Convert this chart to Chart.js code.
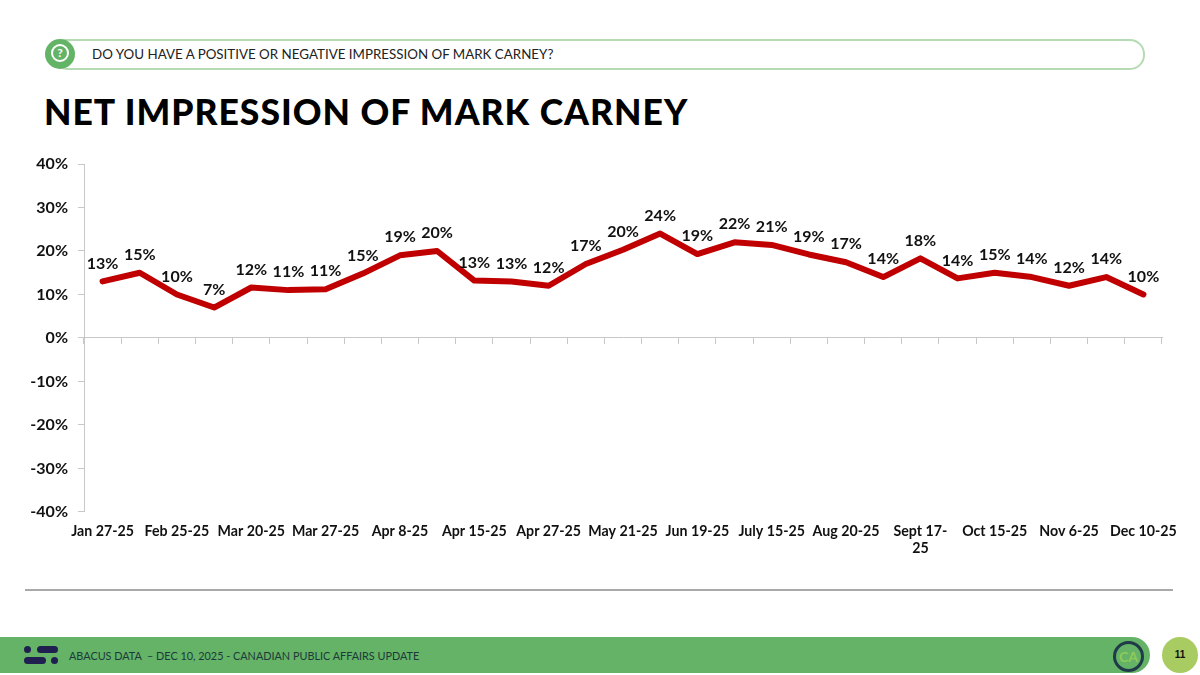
<!DOCTYPE html>
<html>
<head>
<meta charset="utf-8">
<script src="https://cdn.jsdelivr.net/npm/chart.js@4"></script>
<style>
  html, body { margin: 0; padding: 0; background: #fff; }
  body { width: 1200px; height: 675px; position: relative; overflow: hidden; font-family: Lato, sans-serif; color: #111; }
  #chart { position: absolute; left: 0; top: 140px; }
  .abs { position: absolute; box-sizing: border-box; }
  #pill { left: 52px; top: 39px; width: 1093px; height: 31px; border: 2px solid #b5dbb3; border-radius: 15px; }
  #icon { left: 45px; top: 39px; width: 30px; height: 30px; border-radius: 50%; background: #63b467; }
  #icon span { position: absolute; left: 6px; top: 5px; width: 18px; height: 18px; border: 2px solid #fff; border-radius: 50%; box-sizing: border-box; color: #fff; font: bold 12px/14px Lato; text-align: center; }
  #question { left: 92px; top: 46px; font-size: 13.35px; line-height: 17px; white-space: nowrap; color: #222; }
  #title { left: 44px; top: 91px; font-size: 35.5px; line-height: 42px; font-weight: 900; white-space: nowrap; color: #000; letter-spacing: 1px; }
  #rule { left: 25px; top: 589px; width: 1148px; height: 2px; background: #a9a9a9; }
  #footer { left: 0; top: 637px; width: 1150px; height: 36px; background: #64b367; border-radius: 0 18px 18px 0; }
  #footer-text { left: 69px; top: 649px; font-size: 10.85px; line-height: 14px; white-space: nowrap; color: #1d3a3a; }
  .dot { background: #1f2050; border-radius: 4px; height: 7px; }
  #ca { left: 1113px; top: 641px; width: 31px; height: 31px; border: 3px solid #1f3a48; border-radius: 50%; color: #8fcb57; font: bold 14px/25px Lato; text-align: center; }
  #page { left: 1162px; top: 637px; width: 36px; height: 36px; border-radius: 50%; background: #a8cb62; color: #111; font: bold 10px/36px "Liberation Sans"; text-align: center; }
</style>
</head>
<body>
<div class="abs" id="pill"></div>
<div class="abs" id="icon"><span>?</span></div>
<div class="abs" id="question">DO YOU HAVE A POSITIVE OR NEGATIVE IMPRESSION OF MARK CARNEY?</div>
<div class="abs" id="title">NET IMPRESSION OF MARK CARNEY</div>
<canvas id="chart" width="1200" height="440"></canvas>
<div class="abs" id="rule"></div>
<div class="abs" id="footer"></div>
<div class="abs dot" style="left:24px;top:646px;width:7px"></div>
<div class="abs dot" style="left:37px;top:646px;width:21px"></div>
<div class="abs dot" style="left:24px;top:657px;width:22px"></div>
<div class="abs dot" style="left:51px;top:657px;width:7px"></div>
<div class="abs" id="footer-text">ABACUS DATA &nbsp;– DEC 10, 2025 - CANADIAN PUBLIC AFFAIRS UPDATE</div>
<div class="abs" id="ca">CA</div>
<div class="abs" id="page">11</div>
<script>
// every other wave carries a date label on the axis
const waves = [
  "Jan 27-25", "", "Feb 25-25", "", "Mar 20-25", "", "Mar 27-25", "", "Apr 8-25", "",
  "Apr 15-25", "", "Apr 27-25", "", "May 21-25", "", "Jun 19-25", "", "July 15-25", "",
  "Aug 20-25", "", ["Sept 17-", "25"], "", "Oct 15-25", "", "Nov 6-25", "", "Dec 10-25",
];
const netImpression = [
  13, 15, 10, 7, 11.6, 11, 11.2, 14.8, 19, 20,
  13.2, 13, 12, 17, 20.3, 24, 19.3, 22, 21.4, 19.2,
  17.4, 14, 18.3, 13.7, 15, 14, 12, 14, 10,
];
const yTicks = [40, 30, 20, 10, 0, -10, -20, -30, -40];

const labelFont = "bold 16px Lato";

const pointLabels = {
  id: "pointLabels",
  afterDatasetsDraw(chart) {
    const { ctx, scales } = chart;
    ctx.save();
    ctx.font = labelFont;
    ctx.fillStyle = "#111";
    ctx.textAlign = "center";
    ctx.textBaseline = "middle";
    netImpression.forEach((v, i) => {
      ctx.fillText(Math.round(v) + "%", scales.x.getPixelForValue(i), scales.y.getPixelForValue(v) - 18);
    });
    ctx.restore();
  },
};

new Chart("chart", {
  type: "line",
  data: {
    labels: waves,
    datasets: [{
      data: netImpression,
      borderColor: "#c00000",
      borderWidth: 6,
      tension: 0,
      pointRadius: 0,
      borderJoinStyle: "round",
      borderCapStyle: "round",
    }],
  },
  options: {
    responsive: false,
    animation: false,
    layout: { padding: { left: 0, right: 38, top: 24, bottom: 20 } },
    plugins: { legend: { display: false }, tooltip: { enabled: false } },
    scales: {
      x: {
        offset: true,
        border: { display: false },
        grid: { display: false },
        ticks: {
          autoSkip: false,
          maxRotation: 0,
          minRotation: 0,
          padding: 3,
          color: "#111",
          font: { family: "Lato", size: 14.2, weight: "bold" },
        },
      },
      zeroLine: {
        axis: "x",
        position: { y: 0 },
        offset: true,
        border: { display: true, color: "#c8c8c8", width: 1 },
        grid: { drawOnChartArea: false, offset: true, color: "#c8c8c8", tickLength: 6 },
        ticks: { display: false, autoSkip: false },
      },
      y: {
        min: -40,
        max: 40,
        afterBuildTicks(axis) { axis.ticks = yTicks.map((value) => ({ value })); },
        border: { display: true, color: "#c8c8c8", width: 1 },
        grid: { drawOnChartArea: false, color: "#c8c8c8", tickLength: 6 },
        afterFit(axis) { axis.width = 84; },
        ticks: {
          padding: 10,
          color: "#111",
          font: { family: "Lato", size: 16, weight: "bold" },
          callback: (v) => v + "%",
        },
      },
    },
  },
  plugins: [pointLabels],
});
</script>
</body>
</html>
